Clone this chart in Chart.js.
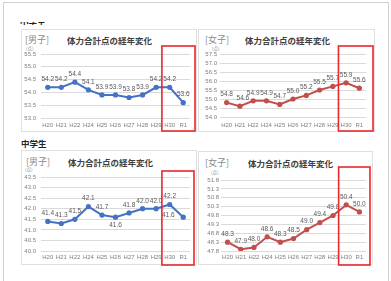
<!DOCTYPE html>
<html><head><meta charset="utf-8">
<script src="https://cdn.jsdelivr.net/npm/chart.js@4.4.1/dist/chart.umd.min.js"></script>
<style>
html,body{margin:0;padding:0;background:#fff;width:391px;height:281px;overflow:hidden;}
.frame{position:absolute;left:3px;top:2px;width:384px;height:300px;border:1px solid #cfcfcf;}
.panel{position:absolute;border:1px solid #e0e0e0;box-sizing:border-box;}
canvas{position:absolute;}
.lbl{position:absolute;white-space:nowrap;font-family:'Noto Sans CJK JP',sans-serif;}
.g{color:#8a8a8a;font-size:9px;line-height:12px;}
.t{color:#404040;font-size:8.5px;line-height:12px;font-weight:bold;}
.u{color:#7f7f7f;font-size:4.5px;line-height:6px;}
.h{color:#222;font-size:8.5px;line-height:10px;font-weight:bold;}
.clip{position:absolute;overflow:hidden;}
</style>
</head><body>
<div class="frame"></div>
<div class="clip" style="left:20px;top:22px;width:40px;height:3px;"><div class="lbl h" style="left:0;top:-6px;">小学生</div></div>
<div class="lbl h" style="left:21px;top:138px;">中学生</div>

<div class="panel" style="left:21px;top:29px;width:176px;height:103px;"></div>
<div class="panel" style="left:198px;top:29px;width:177px;height:103px;"></div>
<div class="panel" style="left:21px;top:150px;width:176px;height:115px;"></div>
<div class="panel" style="left:198px;top:151px;width:175px;height:114px;"></div>

<div class="lbl g" style="left:25px;top:34px;">[男子]</div>
<div class="lbl t" style="left:67px;top:34px;">体力合計点の経年変化</div>
<div class="lbl u" style="left:26px;top:45px;">(点)</div>

<div class="lbl g" style="left:205px;top:34px;">[女子]</div>
<div class="lbl t" style="left:245px;top:34px;">体力合計点の経年変化</div>
<div class="lbl u" style="left:212px;top:45px;">(点)</div>

<div class="lbl g" style="left:26px;top:156px;">[男子]</div>
<div class="lbl t" style="left:68px;top:156px;">体力合計点の経年変化</div>
<div class="lbl u" style="left:25px;top:166px;">(点)</div>

<div class="lbl g" style="left:205px;top:157px;">[女子]</div>
<div class="lbl t" style="left:248px;top:157px;">体力合計点の経年変化</div>
<div class="lbl u" style="left:211px;top:169px;">(点)</div>

<canvas id="c1"></canvas>
<canvas id="c2"></canvas>
<canvas id="c3"></canvas>
<canvas id="c4"></canvas>

<script>
// ---- data ----
const years = ['H20','H21','H22','H24','H25','H26','H27','H28','H29','H30','R1'];
const elemBoys  = [54.2, 54.2, 54.4, 54.1, 53.9, 53.9, 53.8, 53.9, 54.2, 54.2, 53.6];
const elemGirls = [54.8, 54.6, 54.9, 54.9, 54.7, 55.0, 55.2, 55.5, 55.7, 55.9, 55.6];
const juniorBoys  = [41.4, 41.3, 41.5, 42.1, 41.7, 41.6, 41.8, 42.0, 42.0, 42.2, 41.6];
const juniorGirls = [48.3, 47.9, 48.0, 48.6, 48.3, 48.5, 49.0, 49.4, 49.8, 50.4, 50.0];
const ticksElemBoys   = [53.0, 53.5, 54.0, 54.5, 55.0, 55.5];
const ticksElemGirls  = [54.0, 54.5, 55.0, 55.5, 56.0, 56.5, 57.0, 57.5];
const ticksJuniorBoys = [40.0, 40.5, 41.0, 41.5, 42.0, 42.5, 43.0, 43.5];
const ticksJuniorGirls = [47.8, 48.3, 48.8, 49.3, 49.8, 50.3, 50.8, 51.3, 51.8];

// ---- rendering ----
const FONT = "'Liberation Sans','Noto Sans CJK JP',sans-serif";
const BLUE = '#4472C4', RED = '#C0504D';

const labelPlugin = {
  id: 'ptLabels',
  afterDatasetsDraw(chart, args, o) {
    const meta = chart.getDatasetMeta(0);
    const vals = chart.data.datasets[0].data;
    const ctx = chart.ctx;
    ctx.save();
    ctx.font = '6.5px ' + FONT;
    ctx.fillStyle = '#595959';
    ctx.textAlign = 'center';
    ctx.textBaseline = 'middle';
    meta.data.forEach((p, i) => {
      const off = (o.offsets && o.offsets[i]) || [0, -8];
      ctx.fillText(vals[i].toFixed(1), p.x + off[0], p.y + off[1]);
    });
    ctx.restore();
  }
};
const boxPlugin = {
  id: 'redBox',
  afterDraw(chart, args, o) {
    const xs = chart.scales.x, a = chart.chartArea, ctx = chart.ctx;
    const left = (xs.getPixelForValue(8) + xs.getPixelForValue(9)) / 2 - 1;
    const right = a.right + o.right;
    const top = a.top + o.top, bottom = a.bottom + o.bottom;
    ctx.save();
    ctx.strokeStyle = '#E8282B';
    ctx.lineWidth = 1.6;
    ctx.strokeRect(left, top, right - left, bottom - top);
    ctx.restore();
  }
};

function makeChart(id, box, area, values, yTicks, color, cfg) {
  const m = 4;
  const c = {x: box.x - m, y: box.y - m, w: box.w + 2*m, h: box.h + 2*m};
  const cv = document.getElementById(id);
  cv.width = c.w; cv.height = c.h;
  cv.style.left = c.x + 'px'; cv.style.top = c.y + 'px';
  cv.style.width = c.w + 'px'; cv.style.height = c.h + 'px';
  return new Chart(cv, {
    type: 'line',
    data: { labels: years, datasets: [{
      data: values, borderColor: color, backgroundColor: color,
      borderWidth: 2, pointRadius: 2.6, pointBorderWidth: 0,
      pointBackgroundColor: color, tension: 0
    }]},
    options: {
      responsive: false, animation: false, devicePixelRatio: 1,
      layout: { padding: { left: 0, top: area.t - c.y, right: c.x + c.w - area.r, bottom: m } },
      plugins: {
        legend: { display: false }, tooltip: { enabled: false },
        ptLabels: { offsets: cfg.offsets || {} },
        redBox: cfg.box
      },
      scales: {
        x: {
          offset: true,
          grid: { display: false, drawTicks: false },
          border: { display: false },
          ticks: { font: { size: 6, family: FONT }, color: '#7f7f7f', padding: cfg.xpad, maxRotation: 0, autoSkip: false },
          afterFit: s => { s.height = box.y + box.h - area.b; }
        },
        y: {
          min: yTicks[0], max: yTicks[yTicks.length - 1],
          afterBuildTicks: s => { s.ticks = yTicks.map(v => ({ value: v })); },
          grid: { color: '#dadada', drawTicks: false, lineWidth: 1 },
          border: { display: false },
          ticks: { font: { size: 6, family: FONT }, color: '#7f7f7f', padding: cfg.ypad, autoSkip: false,
                   callback: v => Number(v).toFixed(1) },
          afterFit: s => { s.width = area.l - c.x; }
        }
      }
    },
    plugins: [labelPlugin, boxPlugin]
  });
}

makeChart('c1', {x:21, y:29, w:176, h:103}, {l:41, r:190, t:54, b:118}, elemBoys, ticksElemBoys, BLUE,
  { xpad: 4, ypad: 5, box: { top: -8, bottom: 13, right: 5 } });
makeChart('c2', {x:198, y:29, w:177, h:103}, {l:220, r:366, t:54, b:117}, elemGirls, ticksElemGirls, RED,
  { xpad: 5, ypad: 3, box: { top: -8, bottom: 14, right: 7 }, offsets: { 1: [3, -8] } });
makeChart('c3', {x:21, y:150, w:176, h:115}, {l:41, r:190, t:177, b:251}, juniorBoys, ticksJuniorBoys, BLUE,
  { xpad: 3, ypad: 5, box: { top: -6, bottom: 14, right: 4 },
    offsets: { 5: [0, 8], 10: [-15, -2] } });
makeChart('c4', {x:198, y:151, w:175, h:114}, {l:221, r:366, t:180, b:251}, juniorGirls, ticksJuniorGirls, RED,
  { xpad: 3, ypad: 2, box: { top: -13, bottom: 14, right: 4 } });
</script>
</body></html>
